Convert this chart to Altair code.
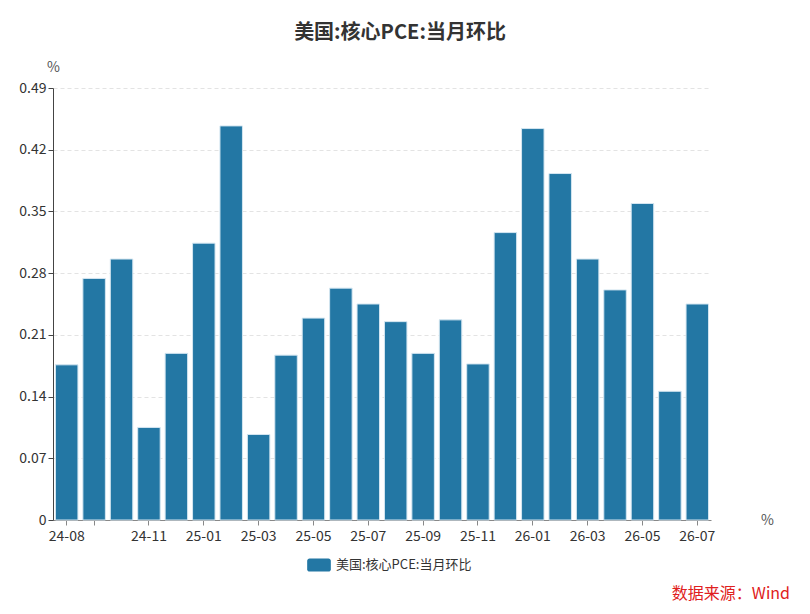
import altair as alt
import pandas as pd

months = ["24-08", "24-09", "24-10", "24-11", "24-12", "25-01", "25-02", "25-03",
          "25-04", "25-05", "25-06", "25-07", "25-08", "25-09", "25-10", "25-11",
          "25-12", "26-01", "26-02", "26-03", "26-04", "26-05", "26-06", "26-07"]
values = [0.176, 0.274, 0.296, 0.105, 0.189, 0.314, 0.447, 0.097,
          0.187, 0.229, 0.263, 0.245, 0.225, 0.189, 0.227, 0.177,
          0.326, 0.444, 0.393, 0.296, 0.261, 0.359, 0.146, 0.245]
tick_months = ["24-08", "24-09", "24-11", "25-01", "25-03", "25-05", "25-07", "25-09",
               "25-11", "26-01", "26-03", "26-05", "26-07"]
y_ticks = [0, 0.07, 0.14, 0.21, 0.28, 0.35, 0.42, 0.49]
series = "美国:核心PCE:当月环比"
title = "美国:核心PCE:当月环比"
source = "数据来源：Wind"

FONT = "Noto Sans CJK SC"
df = pd.DataFrame({"month": months, "value": values, "series": series})

bars = alt.Chart(df).mark_bar(stroke="#d4e6f1", strokeWidth=1).encode(
    x=alt.X("month:N", sort=months,
            scale=alt.Scale(paddingInner=0.18, paddingOuter=0.09),
            axis=alt.Axis(values=tick_months, labelAngle=0, title="%",
                          labelExpr="datum.value == '24-09' ? '' : datum.value",
                          titleX=714, titleY=0, titleAlign="center", titleBaseline="middle",
                          titleFontWeight="normal", titleFontSize=14, titleColor="#555",
                          domainColor="#888", tickColor="#888", tickSize=5,
                          labelFontSize=14, labelColor="#333", labelPadding=4,
                          grid=False)),
    y=alt.Y("value:Q", scale=alt.Scale(domain=[0, 0.49], nice=False, zero=True),
            axis=alt.Axis(values=y_ticks, title="%", titleAngle=0,
                          titleX=0, titleY=-14, titleAlign="center", titleBaseline="bottom",
                          titleFontWeight="normal", titleFontSize=14, titleColor="#555",
                          labelExpr="datum.value == 0 ? '0' : format(datum.value, '.2f')",
                          domainColor="#444", tickColor="#444", tickSize=5,
                          labelFontSize=14, labelColor="#333", labelPadding=2,
                          grid=True, gridColor="#e3e3e3", gridDash=[4, 3])),
    color=alt.Color("series:N", scale=alt.Scale(range=["#2377a4"]),
                    legend=alt.Legend(title=None, orient="none", legendX=254, legendY=465,
                                      symbolType="M -0.8 -0.55 L 0.8 -0.55 A 0.2 0.2 0 0 1 1 -0.35 L 1 0.35 A 0.2 0.2 0 0 1 0.8 0.55 L -0.8 0.55 A 0.2 0.2 0 0 1 -1 0.35 L -1 -0.35 A 0.2 0.2 0 0 1 -0.8 -0.55 Z",
                                      symbolSize=560, symbolStrokeWidth=0, symbolOpacity=1,
                                      labelFontSize=13, labelColor="#333", labelOffset=5,
                                      padding=0)),
)

src = alt.Chart(pd.DataFrame({"t": [source]})).mark_text(
    align="right", baseline="middle", fontSize=16, color="#e02020", font=FONT
).encode(text="t:N", x=alt.value(737), y=alt.value(506))

chart = alt.layer(bars, src).properties(
    width=658, height=432,
    autosize=alt.AutoSizeParams(type="none"),
    padding={"left": 45, "top": 80, "right": 91, "bottom": 86},
    title=alt.TitleParams(title, anchor="middle", fontSize=20, fontWeight="bold",
                          color="#333", font=FONT, dx=18, offset=17),
).configure(font=FONT).configure_view(stroke=None)

chart.save("out.html", embed_options={"renderer": "svg", "actions": False})
